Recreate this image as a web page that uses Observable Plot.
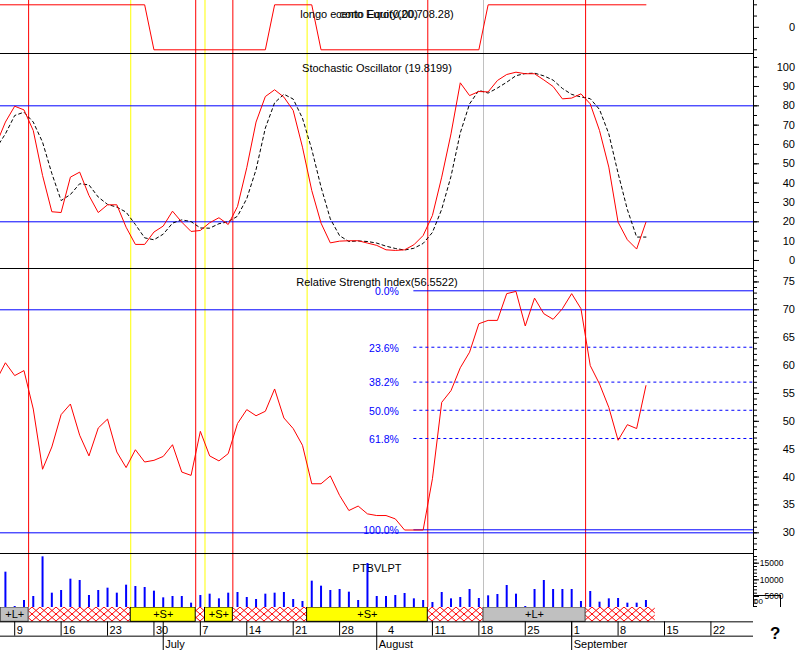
<!DOCTYPE html>
<html><head><meta charset="utf-8">
<script src="https://cdn.jsdelivr.net/npm/d3@7"></script>
<script src="https://cdn.jsdelivr.net/npm/@observablehq/plot@0.6"></script>
<style>
body{margin:0;background:#fff;}
#chart{position:relative;width:800px;height:650px;overflow:hidden;background:#fff;font-family:"Liberation Sans",Arial,sans-serif;}
#chart svg{position:absolute;left:0;display:block;}
#qmark{position:absolute;left:770px;top:624px;font:bold 17px "Liberation Sans",Arial,sans-serif;color:#000;}
#volbox{position:absolute;left:754px;top:595px;width:26px;height:11px;border-top:1px solid #000;border-right:1px solid #000;background:transparent;font:8px "Liberation Sans",Arial,sans-serif;line-height:11px;color:#000;}
</style></head><body><div id="chart"></div>
<script>
// ---- data (day index 0 = Monday 9 June 2003, weekdays only) ----
const firstDay = -2;
const stochK = [60,71.6,79.8,77.9,67.2,44,25.2,24.8,43.1,45.7,33.6,24.8,28.8,28.8,17.2,8.3,8.3,14.7,17.8,25.5,19.8,15,15.5,19.5,22.1,18.6,27.9,48,71.6,84.8,88.3,84.5,77.6,58.6,36.2,19.3,9.1,10,10.2,10.2,9,7.8,5.5,5.2,5.5,8.1,12.9,23.3,43.1,65.5,91.9,85.3,87.4,87.2,93.1,96.2,97.4,96.6,96.6,93.4,90,83.6,84,86.2,81,67.2,48.3,19.8,10.7,5.9,19.8];
const stochD = [58,65.5,75,76.7,71.6,61.2,45,31,34.1,39.7,39.1,32.8,29,27.6,25,18.6,11.7,10.7,13.6,19.3,21,20.1,16.8,16.7,19,20,22.9,32,47,68.5,81.6,86,83.5,73.6,57.5,38,21.5,12.8,9.8,10.1,9.8,9,7.4,6.2,5.4,6.3,8.8,14.5,26.5,43.5,66,81,88,86.6,89.2,92.2,95.6,96.7,96.9,95.5,93.3,89,85.9,84.6,83.7,78.1,65.5,45.1,26.3,12.1,12.1];
const rsi = [57.3,60.5,58.2,59.1,52.2,41.4,45.4,51.2,53.1,47.5,43.8,48.8,50.4,44.5,41.7,44.9,42.7,43,43.7,45.8,40.9,40.3,48.2,43.8,42.9,44.2,49.6,52.1,51,51.8,55.8,50.6,48.7,45.7,38.8,38.8,40.2,36.7,34,34.8,33.4,33.1,33.1,32.5,30.5,30.5,30.5,39.7,53.4,55.5,59.6,62.4,67.5,68.1,68.1,72.9,73.3,67.1,72.1,69.3,68.3,70.2,72.9,70.2,60,56.7,52.5,46.6,49.4,48.7,56.4];
const volFirstDay = -1;
const volume = [12300,2000,3800,5000,16900,6000,6800,10200,9800,5300,6800,7500,6000,8400,8000,7700,6600,4600,5000,5000,3000,5300,5700,4300,6000,6200,4700,4100,5700,6000,6200,4100,3500,9600,8100,6800,7100,6300,3800,14900,5000,5000,5300,5900,4300,3800,3200,6200,4300,4700,7100,4400,5200,5600,8300,5700,2000,7100,9800,7100,7100,7100,3500,6500,3300,4300,4400,3000,3000,3800];
const signalDays = [-2,14,15,27,28,32,33,50,51,68];
const signalVals = [1,1,-1,-1,1,1,-1,-1,1,1];
const markerDays = [1.5,12.5,19.5,20.5,23.5,31.5,44.5,50.5,61.5];
const markerColors = ["#ff0000","#ffff00","#ff0000","#ffff00","#ff0000","#ffff00","#ff0000","#c0c0c0","#ff0000"];
const bandEdges = [-1.5,1.5,12.5,19.5,20.5,23.5,31.5,44.5,50.5,61.5,69];
const bandKinds = ["L","X","S","X","S","X","S","X","L","X"];
const stochLevels = [80,20];
const rsiLevels = [70,30];
const fibStartDay = 43;
const fibValues = [73.41,63.29,57.03,51.98,46.92,30.54];
const fibLabels = ["0.0%","23.6%","38.2%","50.0%","61.8%","100.0%"];
const weekTickDays = [0,5,10,15,20,25,30,35,40,45,50,55,60,65,70,75];
const weekTickLabels = ["9","16","23","30","7","14","21","28","4","11","18","25","1","8","15","22"];
const monthTickDays = [16,39,60];
const monthLabels = ["July","August","September"];
const titleSignalA = "longo e corto Equity(20,708.28)";
const titleSignalB = "cento Euro(0,00)";
const titleStoch = "Stochastic Oscillator (19.8199)";
const titleRsi = "Relative Strength Index(56.5522)";
const titleVol = "PTBVLPT";

// ---- layout ----
const xDomain = [-1.5297, 79.587];
const FONT = "Liberation Sans, Arial, sans-serif";
const chart = document.getElementById("chart");

const indRows = stochK.map((k,i)=>({d:firstDay+i, k, dd:stochD[i], r:rsi[i]}));
const volRows = volume.map((v,i)=>({d:volFirstDay+i, v}));
const signalRows = signalDays.map((d,i)=>({d, v:signalVals[i]}));
const markers = markerDays.map((d,i)=>({d, color:markerColors[i]}));
const segs = bandKinds.map((kind,i)=>({x1:bandEdges[i], x2:bandEdges[i+1], kind}));
const fibRows = fibValues.map((v,i)=>({v, label:fibLabels[i], solid: i===0 || i===fibValues.length-1}));
const weekTicks = weekTickDays.map((d,i)=>({d, label:weekTickLabels[i]}));
const monthTicks = monthTickDays.map((d,i)=>({d, label:monthLabels[i]}));
const weekTickLines = weekTicks.filter(w => !monthTickDays.some(m => w.d - m > 0 && w.d - m <= 3));

function range(a,b,s){const r=[];for(let v=a;v<=b+1e-9;v+=s)r.push(+v.toFixed(6));return r;}

function rightAxis(major, minor, fmt, extra={}) {
  return [
    Plot.axisY(minor, {anchor:"right", tickSize:3, tickFormat:()=>"", label:null}),
    Plot.axisY(major, {anchor:"right", tickSize:5, tickPadding:36.5, textAnchor:"end", tickFormat:fmt, fontSize:11, label:null, ...extra})
  ];
}

function panel(top, height, yDomain, marks, yExtra={}) {
  const svg = Plot.plot({
    width:800, height, marginTop:0, marginBottom:0, marginLeft:0, marginRight:47,
    x:{domain:xDomain, axis:null},
    y:{domain:yDomain, label:null, ...yExtra},
    color:{type:"identity"},
    style:{fontFamily:FONT, fontSize:"11px", background:"white", color:"black"},
    marks
  });
  svg.style.top = top + "px";
  chart.appendChild(svg);
  return svg;
}

const markerRule = Plot.ruleX(markers, {x:"d", stroke:"color"});
const axisLine = Plot.ruleX([xDomain[1]], {stroke:"black"});

// P1 signal
panel(0, 53, [-1.164, 1.191], [
  markerRule,
  Plot.line(signalRows, {x:"d", y:"v", stroke:"#ff0000", strokeWidth:1}),
  Plot.text([titleSignalA], {frameAnchor:"top", dy:10}),
  Plot.text([titleSignalB], {frameAnchor:"top", dy:10}),
  axisLine,
  ...rightAxis([0], [-1,-0.5,0.5,1], d=>String(d))
]);

// P2 stochastic
const stochDom = [-4.16, 107.07];
panel(53, 215, stochDom, [
  markerRule,
  Plot.ruleY(stochLevels, {stroke:"#0000ff"}),
  Plot.line(indRows, {x:"d", y:"dd", stroke:"black", strokeWidth:1, strokeDasharray:"3,3"}),
  Plot.line(indRows, {x:"d", y:"k", stroke:"#ff0000", strokeWidth:1}),
  Plot.ruleY([stochDom[1]], {stroke:"black"}),
  Plot.text([titleStoch], {frameAnchor:"top", dy:10.3}),
  axisLine,
  ...rightAxis(range(0,100,10), range(0,105,5), d=>String(d))
]);

// P3 RSI
const rsiDom = [26.29, 77.41];
panel(268, 285, rsiDom, [
  markerRule,
  Plot.ruleY(rsiLevels, {stroke:"#0000ff"}),
  Plot.ruleY(fibRows.filter(f=>f.solid), {y:"v", x1:fibStartDay, x2:xDomain[1], stroke:"#0000ff"}),
  Plot.ruleY(fibRows.filter(f=>!f.solid), {y:"v", x1:fibStartDay, x2:xDomain[1], stroke:"#0000ff", strokeDasharray:"3,3"}),
  Plot.text(fibRows, {x:fibStartDay, y:"v", text:"label", textAnchor:"end", dx:-15, dy:1, fill:"#0000ff", fontSize:10.5}),
  Plot.line(indRows, {x:"d", y:"r", stroke:"#ff0000", strokeWidth:1}),
  Plot.ruleY([rsiDom[1]], {stroke:"black"}),
  Plot.text([titleRsi], {frameAnchor:"top", dy:10}),
  axisLine,
  ...rightAxis(range(30,75,5), range(27,77,1), d=>String(d))
]);

// P4 volume
const volDom = [1700, 17900];
panel(553, 54, volDom, [
  markerRule,
  Plot.text([titleVol], {frameAnchor:"top", dy:10.3}),
  Plot.ruleX(volRows, {x:"d", y1:volDom[0], y2:"v", stroke:"#0000ff", strokeWidth:2}),
  Plot.ruleY([volDom[1]], {stroke:"black"}),
  axisLine,
  Plot.axisY(range(2000,17000,1000), {anchor:"right", tickSize:3, tickFormat:()=>"", label:null}),
  Plot.axisY([5000,10000,15000], {anchor:"right", tickSize:5, tickPadding:25, textAnchor:"end", tickFormat:d=>String(d), fontSize:8.5, label:null})
]);

// P5 bands + date axis
const bottom = panel(607, 43, [0,3], [
  Plot.rect(segs.filter(s=>s.kind==="X"), {x1:"x1", x2:"x2", y1:0, y2:1, fill:"url(#hatch)"}),
  Plot.rect(segs.filter(s=>s.kind==="L"), {x1:"x1", x2:"x2", y1:0, y2:1, fill:"#c0c0c0", stroke:"#404040"}),
  Plot.rect(segs.filter(s=>s.kind==="S"), {x1:"x1", x2:"x2", y1:0, y2:1, fill:"#ffff00", stroke:"black"}),
  Plot.text(segs.filter(s=>s.kind!=="X"), {x:s=>(s.x1+s.x2)/2, y:0.5, text:s=>"+"+s.kind+"+"}),
  Plot.ruleY([1,2], {stroke:"black"}),
  Plot.ruleX(weekTickLines, {x:"d", y1:1, y2:2, stroke:"black"}),
  Plot.text(weekTicks, {x:"d", y:1.5, text:"label", textAnchor:"start", dx:2, dy:1}),
  Plot.ruleX(monthTicks, {x:"d", y1:1, y2:3, stroke:"black"}),
  Plot.text(monthTicks, {x:"d", y:2.5, text:"label", textAnchor:"start", dx:2, dy:1})
], {range:[0,43], axis:null});

const defs = d3.select(bottom).insert("defs", ":first-child");
const pat = defs.append("pattern").attr("id","hatch").attr("patternUnits","userSpaceOnUse").attr("width",8).attr("height",7);
pat.append("rect").attr("width",8).attr("height",7).attr("fill","white");
pat.append("path").attr("d","M0,0L8,7M8,0L0,7").attr("stroke","#ff0000").attr("stroke-width",1).attr("fill","none");

const vb = document.createElement("div"); vb.id="volbox"; vb.textContent="00"; chart.appendChild(vb);
const q = document.createElement("div"); q.id="qmark"; q.textContent="?"; chart.appendChild(q);
</script></body></html>
